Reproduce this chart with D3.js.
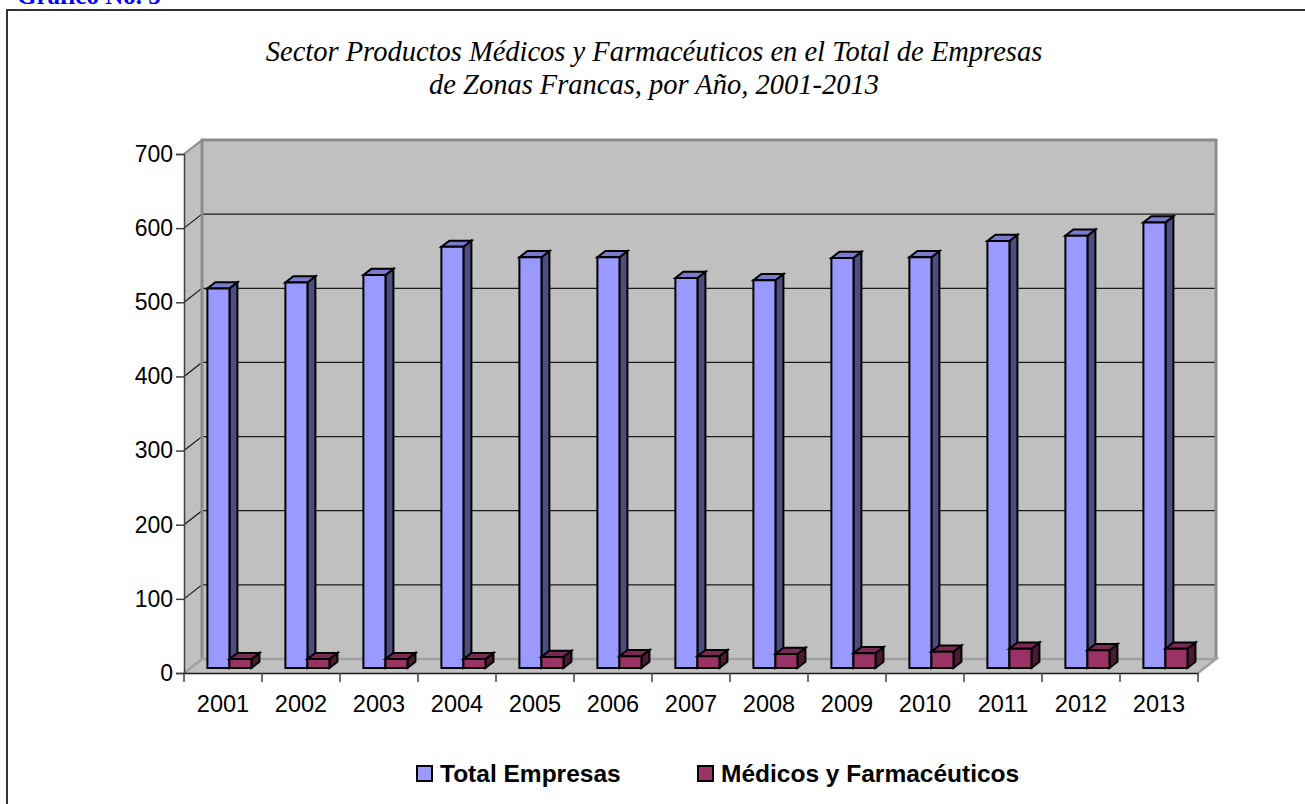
<!DOCTYPE html>
<html>
<head>
<meta charset="utf-8">
<script src="https://cdn.jsdelivr.net/npm/d3@7"></script>
<style>
  html, body { margin: 0; padding: 0; background: #fff; }
  svg { display: block; }
</style>
</head>
<body>
<svg id="chart" width="1305" height="804"></svg>
<script>
// ---- data ----
const years = ["2001","2002","2003","2004","2005","2006","2007","2008","2009","2010","2011","2012","2013"];
const totalEmpresas = [512, 520, 530, 568, 554, 554, 526, 523, 553, 554, 576, 583, 601];
const medicosFarmaceuticos = [12, 12, 12, 12, 15, 16, 16, 19, 20, 22, 26, 24, 26];
const seriesNames = ["Total Empresas", "Médicos y Farmacéuticos"];
const yTicks = [0, 100, 200, 300, 400, 500, 600, 700];
const titleLines = ["Sector Productos Médicos y Farmacéuticos en el Total de Empresas", "de Zonas Francas, por Año, 2001-2013"];

const colors = {
  front: ["#9999ff", "#993366"],
  side:  ["#4d4d80", "#4d1a33"],
  top:   ["#7a7acc", "#7a2952"]
};

const svg = d3.select("#chart");

// ---- frame & header ----
svg.append("text").attr("x", 17).attr("y", 4)
  .attr("font-family", "Liberation Serif, Times New Roman, serif")
  .attr("font-weight", "bold").attr("font-size", 25).attr("fill", "#0000ff")
  .text("Gráfico No. 5");
svg.append("path").attr("d", "M7,820 L7,10 L1320,10")
  .attr("fill", "none").attr("stroke", "#333").attr("stroke-width", 2);

// ---- title ----
const title = svg.append("text")
  .attr("font-family", "Liberation Serif, Times New Roman, serif")
  .attr("font-style", "italic").attr("font-size", 28.5).attr("fill", "#000")
  .attr("text-anchor", "middle");
titleLines.forEach((t, i) => {
  title.append("tspan").attr("x", 654).attr("y", 61 + i * 33).text(t);
});

// ---- scales ----
const x = d3.scaleBand().domain(years).range([184, 1198]).padding(0);
const inner = d3.scaleBand().domain(seriesNames).range([0, x.bandwidth()]).paddingInner(0).paddingOuter(0.77);
const y = d3.scaleLinear().domain([0, 700]).range([673, 154]);
const DX = 18, DY = -14;              // full depth offset
const P = (px, v, d) => [px + d * DX, y(v) + d * DY];

// ---- walls ----
const wallFill = "#c0c0c0", wallEdge = "#8c8c8c";
svg.append("polygon")
  .attr("points", [P(x.range()[0], 0, 1), P(x.range()[0], 700, 1), P(x.range()[1], 700, 1), P(x.range()[1], 0, 1)].map(p => p.join(",")).join(" "))
  .attr("fill", wallFill);
svg.append("polygon")
  .attr("points", [P(184, 0, 0), P(184, 700, 0), P(184, 700, 1), P(184, 0, 1)].map(p => p.join(",")).join(" "))
  .attr("fill", wallFill);
svg.append("polygon")
  .attr("points", [P(184, 0, 0), P(x.range()[1], 0, 0), P(x.range()[1], 0, 1), P(184, 0, 1)].map(p => p.join(",")).join(" "))
  .attr("fill", wallFill);

// gridlines
const grid = svg.append("g").attr("stroke", "#1a1a1a").attr("stroke-width", 1.2).attr("fill", "none");
yTicks.filter(v => v > 0 && v < 700).forEach(v => {
  const a = P(184, v, 0), b = P(184, v, 1), c = P(x.range()[1], v, 1);
  grid.append("path").attr("d", `M${a}L${b}L${c}`);
});

// wall edges
const edges = svg.append("g").attr("stroke", wallEdge).attr("fill", "none").attr("stroke-linejoin", "miter");
edges.append("path").attr("stroke-width", 3)
  .attr("d", `M${P(184, 0, 1)}L${P(184, 700, 1)}L${P(x.range()[1], 700, 1)}L${P(x.range()[1], 0, 1)}`);
edges.append("path").attr("stroke-width", 2)
  .attr("d", `M${P(184, 700, 0)}L${P(184, 700, 1)}`);
edges.append("path").attr("stroke-width", 2.5).attr("stroke", "#a0a0a0")
  .attr("d", `M${P(184, 0, 0)}L${P(184, 0, 1)}L${P(x.range()[1], 0, 1)}L${P(x.range()[1], 0, 0)}`);

// ---- bars ----
const D0 = 0.357, D1 = 0.80;
const seriesData = [totalEmpresas, medicosFarmaceuticos];
const bars = svg.append("g").attr("stroke", "#000").attr("stroke-width", 2).attr("stroke-linejoin", "miter");
years.forEach((yr, i) => {
  seriesNames.forEach((s, k) => {
    const v = seriesData[k][i];
    const xl = x(yr) + inner(s), xr = xl + inner.bandwidth();
    const fbl = P(xl, 0, D0), ftl = P(xl, v, D0), ftr = P(xr, v, D0), fbr = P(xr, 0, D0);
    const btl = P(xl, v, D1), btr = P(xr, v, D1), bbr = P(xr, 0, D1);
    const g = bars.append("g");
    g.append("polygon").attr("points", [fbr, ftr, btr, bbr].map(p => p.join(",")).join(" ")).attr("fill", colors.side[k]);
    g.append("polygon").attr("points", [ftl, ftr, btr, btl].map(p => p.join(",")).join(" ")).attr("fill", colors.top[k]);
    g.append("polygon").attr("points", [fbl, ftl, ftr, fbr].map(p => p.join(",")).join(" ")).attr("fill", colors.front[k]);
  });
});

// ---- axes ----
const axisFont = "Liberation Sans, Arial, sans-serif";
const yAxis = svg.append("g").attr("transform", "translate(184,0)")
  .call(d3.axisLeft(y).tickValues(yTicks).tickSize(8).tickPadding(3).tickFormat(d3.format("d")));
yAxis.select(".domain").attr("stroke", "#404040").attr("stroke-width", 1.5);
yAxis.selectAll(".tick line").attr("stroke", "#404040").attr("stroke-width", 1.5);
yAxis.selectAll("text").attr("font-family", axisFont).attr("font-size", 23).attr("fill", "#000");

const xAxis = svg.append("g").attr("transform", "translate(0,673)")
  .call(d3.axisBottom(x).tickSize(0).tickPadding(22));
xAxis.select(".domain").attr("stroke", "#1a1a1a").attr("stroke-width", 1.5);
xAxis.selectAll("text").attr("font-family", axisFont).attr("font-size", 23.5).attr("fill", "#000");
xAxis.selectAll(".bound").data(d3.range(years.length + 1)).join("line")
  .attr("class", "bound")
  .attr("x1", i => x.range()[0] + i * x.step()).attr("x2", i => x.range()[0] + i * x.step())
  .attr("y1", 0).attr("y2", 9).attr("stroke", "#404040").attr("stroke-width", 1.5);

// ---- legend ----
const legendX = [417, 698];
const legend = svg.append("g");
seriesNames.forEach((s, k) => {
  legend.append("rect").attr("x", legendX[k]).attr("y", 766).attr("width", 15).attr("height", 15)
    .attr("fill", colors.front[k]).attr("stroke", "#000").attr("stroke-width", 2);
  legend.append("text").attr("x", legendX[k] + 23).attr("y", 782)
    .attr("font-family", axisFont).attr("font-weight", "bold").attr("font-size", 24.5).attr("fill", "#000")
    .text(s);
});
</script>
</body>
</html>
